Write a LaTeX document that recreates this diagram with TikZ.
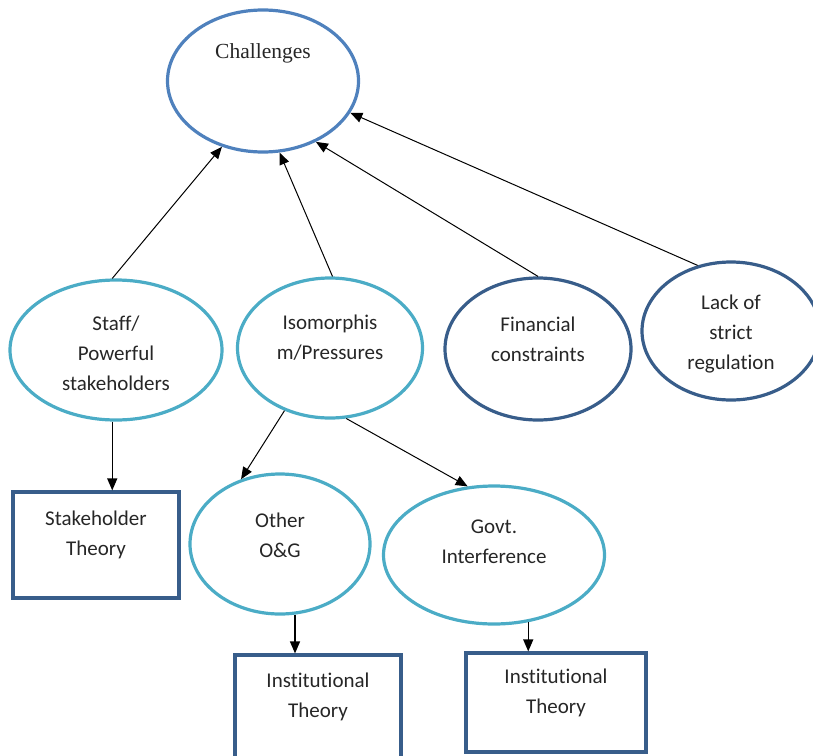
\documentclass[tikz,border=0pt]{standalone}
\usepackage{fontspec}
\setmainfont{Carlito}[Ligatures=NoCommon]
\newfontfamily\timesfont{Liberation Serif}
\usetikzlibrary{shapes.geometric, arrows.meta}

\definecolor{aqualine}{HTML}{4BACC6}
\definecolor{blueline}{HTML}{4F81BD}
\definecolor{darkline}{HTML}{385D8A}

\tikzset{
    lbl/.style={align=center, font=\fontsize{21}{30}\selectfont, text=black!85},
    ell/.style={ellipse, draw, line width=3.2pt, inner sep=0pt},
    aquaell/.style={ell, draw=aqualine},
    darkell/.style={ell, draw=darkline},
    theorybox/.style={rectangle, draw=darkline, line width=3.2pt, inner sep=0pt},
    arr/.style={-{Triangle[length=12pt,width=10pt]}, line width=1.3pt},
    longarr/.style={-{Triangle[length=12pt,width=10pt]}, line width=1pt}
}

\begin{document}
\begin{tikzpicture}[x=1pt, y=-1pt]

    \useasboundingbox (0,0) rectangle (813,755);

    % Top ellipse
    \node[ell, draw=blueline, minimum width=191pt, minimum height=142pt,
        label={[lbl, font=\timesfont\fontsize{21.5}{30}\selectfont, yshift=28pt]center:Challenges}] (chal) at (263,81) {};

    % Middle row
    \node[aquaell, minimum width=212pt, minimum height=140pt,
        label={[lbl, yshift=-3pt]center:Staff/\\Powerful\\stakeholders}] (staff) at (116,350) {};
    \node[aquaell, minimum width=185pt, minimum height=140pt,
        label={[lbl, yshift=10pt]center:Isomorphis\\m/Pressures}] (iso) at (330,348) {};
    \node[darkell, minimum width=186pt, minimum height=142pt,
        label={[lbl, yshift=10pt]center:Financial\\constraints}] (fin) at (538,349) {};
    \node[darkell, minimum width=178pt, minimum height=138pt,
        label={[lbl, yshift=-3pt]center:Lack of\\strict\\regulation}] (lack) at (731,331) {};

    % Lower row
    \node[aquaell, minimum width=180pt, minimum height=140pt,
        label={[lbl, yshift=9pt]center:Other\\O\&G}] (other) at (280,544) {};
    \node[aquaell, minimum width=221pt, minimum height=138pt,
        label={[lbl, yshift=13pt]center:Govt.\\Interference}] (govt) at (494,555) {};

    % Theory boxes
    \node[theorybox, minimum width=166pt, minimum height=106pt,
        label={[lbl, yshift=10pt]center:Stakeholder\\Theory}] (stk) at (96,545) {};
    \node[theorybox, minimum width=166pt, minimum height=104pt,
        label={[lbl, yshift=10pt]center:Institutional\\Theory}] (inst1) at (318,707) {};
    \node[theorybox, minimum width=180pt, minimum height=99pt,
        label={[lbl, yshift=10pt]center:Institutional\\Theory}] (inst2) at (556,702.5) {};

    % Arrows into Challenges
    \draw[longarr] (staff.93) -- (chal.238);
    \draw[longarr] (iso.88) -- (chal.283);
    \draw[longarr] (fin.north) -- (chal.311);
    \draw[longarr] (lack.117) -- (chal.340);

    % Arrows downwards
    \draw[arr] (staff.267) -- (staff.267 |- stk.north);
    \draw[longarr] (iso.234) -- (other.121);
    \draw[longarr] (iso.283) -- (govt.111);
    \draw[arr] (other.282) -- (other.282 |- inst1.north);
    \draw[arr] (govt.297) -- (govt.297 |- inst2.north);

\end{tikzpicture}
\end{document}
